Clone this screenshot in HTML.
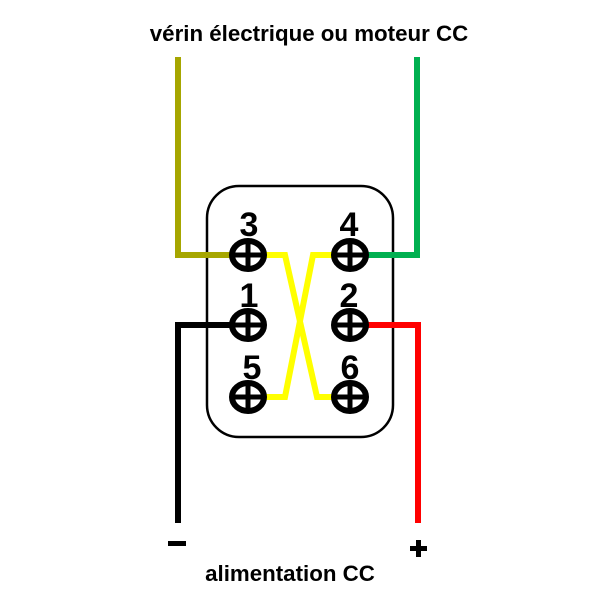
<!DOCTYPE html>
<html><head><style>body{margin:0;background:#fff}</style></head><body>
<svg width="600" height="600" xmlns="http://www.w3.org/2000/svg" style="display:block">
<rect width="600" height="600" fill="#fff"/>
<text x="309" y="41" text-anchor="middle" font-family="Liberation Sans, sans-serif" font-weight="bold" font-size="22.3">vérin électrique ou moteur CC</text>
<text x="290" y="581" text-anchor="middle" font-family="Liberation Sans, sans-serif" font-weight="bold" font-size="22.3">alimentation CC</text>
<rect x="168" y="541" width="18" height="5" fill="#000"/>
<rect x="410" y="546" width="17" height="5" fill="#000"/>
<rect x="416" y="540" width="5" height="17" fill="#000"/>
<rect x="207" y="186" width="186" height="251" rx="32" fill="none" stroke="#000" stroke-width="2.5"/>
<g fill="none" stroke-width="6" stroke-linejoin="miter">
<polyline points="178,57 178,255 234,255" stroke="#a6a600"/>
<polyline points="417,57 417,255 364,255" stroke="#00b050"/>
<polyline points="234,325 178,325 178,523" stroke="#000"/>
<polyline points="364,325 418,325 418,523" stroke="#ff0000"/>
<polyline points="262,255 285,255 317,397 336,397" stroke="#ffff00"/>
<polyline points="336,255 313,255 285,397 262,397" stroke="#ffff00"/>
</g>
<g fill="#fff" stroke="#000" stroke-width="6">
<ellipse cx="248" cy="255" rx="16" ry="14"/><ellipse cx="350" cy="255" rx="16" ry="14"/>
<ellipse cx="248" cy="325" rx="16" ry="14"/><ellipse cx="350" cy="325" rx="16" ry="14"/>
<ellipse cx="248" cy="397" rx="16" ry="14"/><ellipse cx="350" cy="397" rx="16" ry="14"/>
</g>
<g stroke="#000" stroke-width="5">
<path d="M232 255H264M248 241V269M334 255H366M350 241V269M232 325H264M248 311V339M334 325H366M350 311V339M232 397H264M248 383V411M334 397H366M350 383V411"/>
</g>
<g font-family="Liberation Sans, sans-serif" font-weight="bold" font-size="34" text-anchor="middle">
<text x="249" y="236">3</text><text x="349" y="236">4</text>
<text x="249" y="307">1</text><text x="349" y="307">2</text>
<text x="252" y="379">5</text><text x="350" y="379">6</text>
</g>
</svg>
</body></html>
